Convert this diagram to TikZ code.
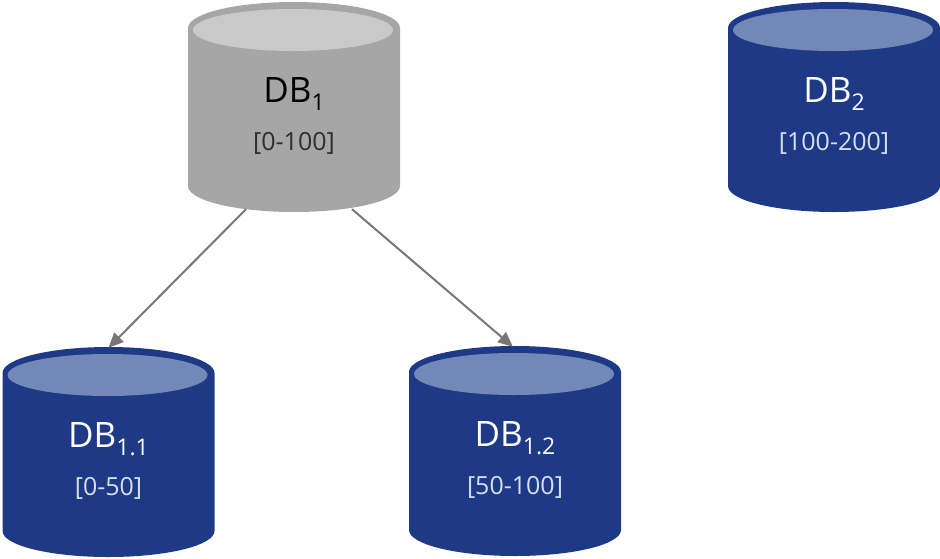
\documentclass[tikz,border=0pt]{standalone}
\usepackage{fontspec}
\setmainfont{Open Sans}
\usetikzlibrary{arrows.meta,calc}
\definecolor{dbblue}{HTML}{1E3A87}
\definecolor{dbbluelt}{HTML}{7488B8}
\definecolor{dbgray}{HTML}{A6A6A6}
\definecolor{dbgraylt}{HTML}{C9C9C9}
\definecolor{arrowgray}{HTML}{777777}
\definecolor{rangelt}{HTML}{D8DEEF}
\definecolor{rangedk}{HTML}{2E2E2E}
\newcommand\dbsub[1]{\raisebox{-8pt}{\fontsize{23}{23}\selectfont #1}}
\tikzset{
  bodygray/.style={fill=dbgray},
  innergray/.style={fill=dbgraylt},
  titlegray/.style={text=black},
  rangegray/.style={text=rangedk},
  bodyblue/.style={fill=dbblue},
  innerblue/.style={fill=dbbluelt},
  titleblue/.style={text=white},
  rangeblue/.style={text=rangelt},
  dbbox/.style={inner sep=0pt, minimum width=212pt, minimum height=210pt},
  titletext/.style={anchor=base, inner sep=0pt, font=\fontsize{35}{35}\selectfont},
  rangetext/.style={anchor=base, inner sep=0pt, font=\fontsize{25}{25}\selectfont},
  arr/.style={draw=arrowgray, line width=2pt, -{Triangle[length=15pt,width=13pt]}},
}
% name, cx, ty, style, title, range
\newcommand\dbcyl[6]{%
  \fill[body#4] ({#2-106},#3) arc[start angle=180,end angle=0,x radius=106pt,y radius=26pt]
     -- ++(0,158) arc[start angle=0,end angle=-180,x radius=106pt,y radius=26pt] -- cycle;
  \fill[inner#4] ({#2-1},{#3+2}) ellipse [x radius=100pt, y radius=21pt];
  \node[dbbox] (#1) at (#2,{#3+79}) {};
  \node[titletext, title#4] (#1title) at (#2,{#3+74}) {#5};
  \node[rangetext, range#4] (#1range) at (#2,{#3+122}) {#6};
}
\begin{document}
\begin{tikzpicture}[x=1pt,y=-1pt]
\useasboundingbox (0,0) rectangle (940,558);
\dbcyl{db1}{294}{28}{gray}{DB\dbsub{1}}{[0-100]}
\dbcyl{db2}{834}{28}{blue}{DB\dbsub{2}}{[100-200]}
\dbcyl{db11}{108.5}{373}{blue}{DB\dbsub{1.1}}{[0-50]}
\dbcyl{db12}{515}{372}{blue}{DB\dbsub{1.2}}{[50-100]}
\coordinate (s1) at ($(db1.south)+(-48,-3)$);
\coordinate (s2) at ($(db1.south)+(58,-3)$);
\draw[arr] (s1) -- ($(db11.north)+(0,1)$);
\draw[arr] (s2) -- ($(db12.north)+(-2,1)$);
\end{tikzpicture}
\end{document}
